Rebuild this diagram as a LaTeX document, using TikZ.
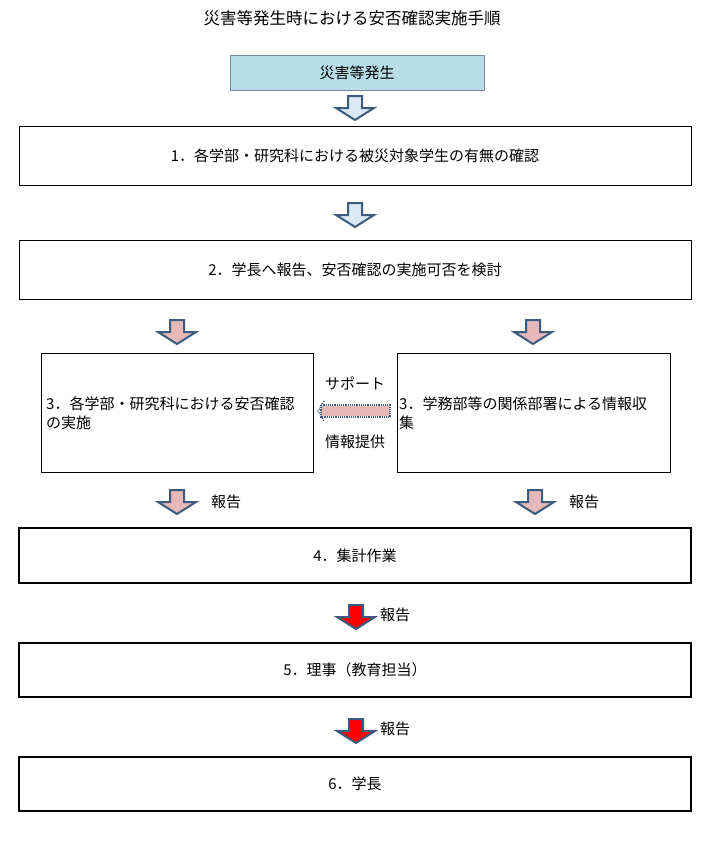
\documentclass[tikz,border=0pt]{standalone}
\usepackage{fontspec}
\setmainfont{Noto Sans CJK JP}
\definecolor{arrline}{HTML}{3D5A80}
\definecolor{lblue}{HTML}{DCE8F4}
\definecolor{boxblue}{HTML}{B7DDE8}
\definecolor{pinkf}{HTML}{E6B9B8}
\begin{document}
\begin{tikzpicture}[x=1pt,y=-1pt,
  box/.style={draw=black,line width=1pt},
  txt/.style={font=\fontsize{15}{19}\selectfont},
  arrowbox/.style={draw=arrline,line width=2pt,line join=miter}]
\useasboundingbox (0,0) rectangle (709,851);
\newcommand{\darr}[4]{% x, ytop, fill, name
  \fill[#3] (#1-7,#2) -- (#1+7,#2) -- (#1+7,#2+12) -- (#1+19,#2+12) -- (#1,#2+24) -- (#1-19,#2+12) -- (#1-7,#2+12) -- cycle;
  \draw[arrowbox] (#1-7,#2) -- (#1+7,#2) -- (#1+7,#2+12) -- (#1+19,#2+12) -- (#1,#2+24) -- (#1-19,#2+12) -- (#1-7,#2+12) -- cycle;
  \coordinate (#4) at (#1,#2+12);}
\node[font=\fontsize{16.5}{19}\selectfont] (title) at (352,18) {災害等発生時における安否確認実施手順};
\node[draw=arrline!70,fill=boxblue,minimum width=254pt,minimum height=35pt,txt] (b0) at (357,72.5) {災害等発生};
\darr{355}{96}{lblue}{a1}
\node[box,minimum width=672pt,minimum height=59pt,txt] (b1) at (355,155.5) {1．各学部・研究科における被災対象学生の有無の確認};
\darr{355}{203}{lblue}{a2}
\node[box,minimum width=672pt,minimum height=59pt,txt] (b2) at (355,269.5) {2．学長へ報告、安否確認の実施可否を検討};
\darr{177}{320}{pinkf}{a3}
\darr{533}{320}{pinkf}{a4}
\node[draw,line width=0.8pt,minimum width=272pt,minimum height=119pt] (b3l) at (177,412.5) {};
\node[txt,anchor=north west,align=left,inner sep=0pt] (t3l) at (46,397) {3．各学部・研究科における安否確認\\の実施};
\node[draw,line width=0.8pt,minimum width=273pt,minimum height=119pt] (b3r) at (533.5,412.5) {};
\node[txt,anchor=north west,align=left,inner sep=0pt] (t3r) at (399,397) {3．学務部等の関係部署による情報収\\集};
\node[txt] (sup) at (355,383) {サポート};
\node[txt] (info) at (355,442) {情報提供};
\coordinate (dl) at (318,411); \coordinate (dr) at (392,411);
\fill[pinkf] (321,406) rectangle (390,416);
\draw[arrline,densely dotted,line width=1.2pt] (321,405) rectangle (390,417);
\draw[arrline,densely dotted,line width=1.2pt] (324,401) -- (318,411) -- (324,421);
\darr{177}{490}{pinkf}{a5}
\node[txt] (r1) at (226,502) {報告};
\darr{535}{490}{pinkf}{a6}
\node[txt] (r2) at (584,502) {報告};
\node[box,line width=1.4pt,minimum width=672pt,minimum height=55pt,txt] (b4) at (355,555.5) {4．集計作業};
\darr{356}{605}{red}{a7}
\node[txt] (r3) at (395,615) {報告};
\node[box,line width=1.4pt,minimum width=672pt,minimum height=54pt,txt] (b5) at (355,670) {5．理事（教育担当）};
\darr{356}{719}{red}{a8}
\node[txt] (r4) at (395,729) {報告};
\node[box,line width=1.4pt,minimum width=672pt,minimum height=54pt,txt] (b6) at (355,784) {6．学長};
\end{tikzpicture}
\end{document}
